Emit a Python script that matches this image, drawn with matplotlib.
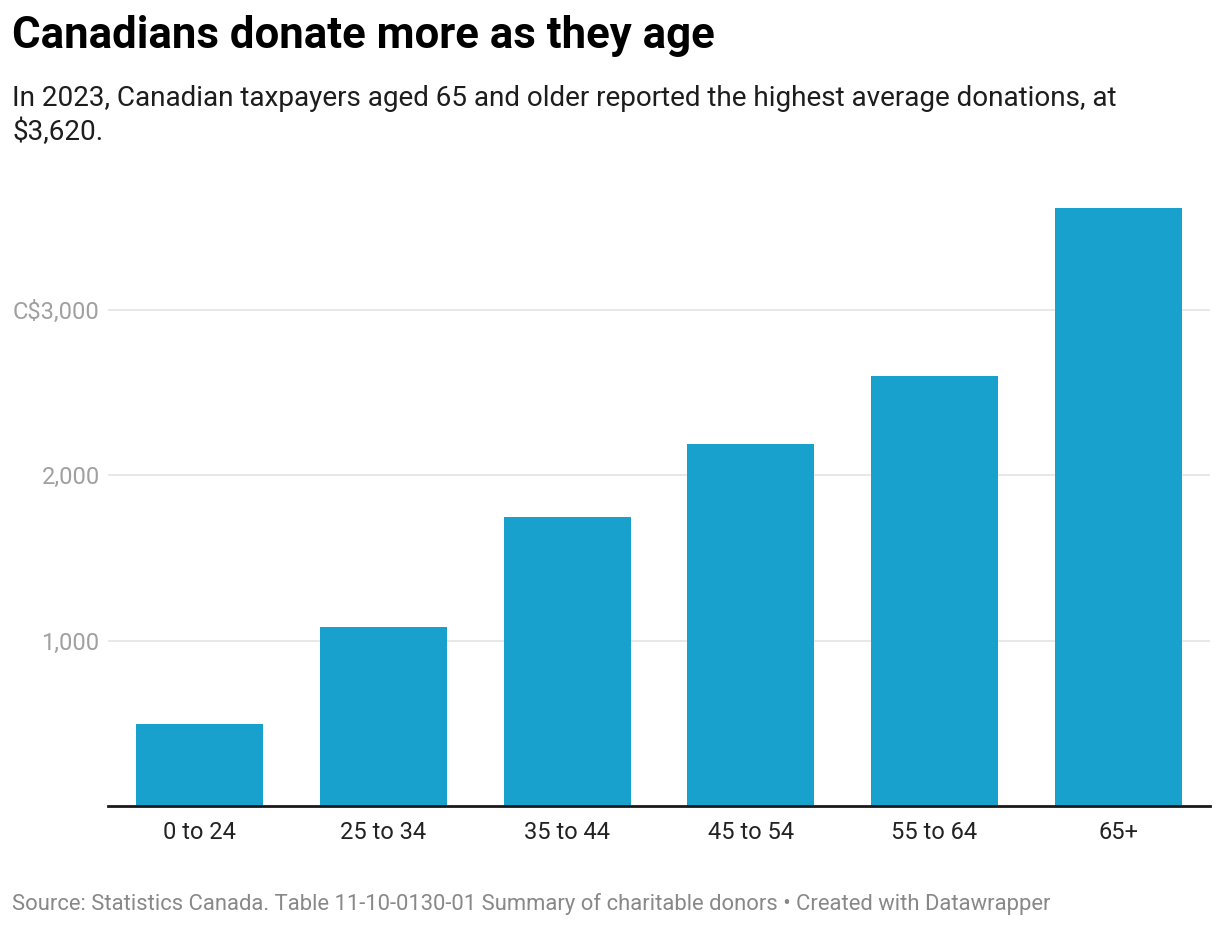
import matplotlib
matplotlib.use("Agg")
import matplotlib.pyplot as plt
from matplotlib.ticker import FixedLocator

categories = ["0 to 24", "25 to 34", "35 to 44", "45 to 54", "55 to 64", "65+"]
values = [495, 1080, 1750, 2190, 2600, 3620]
yticks = [1000, 2000, 3000]
ytick_labels = ["1,000", "2,000", "C$3,000"]

title = "Canadians donate more as they age"
subtitle_lines = ["In 2023, Canadian taxpayers aged 65 and older reported the highest average donations, at",
                  "$3,620."]
source = "Source: Statistics Canada. Table 11-10-0130-01 Summary of charitable donors • Created with Datawrapper"

plt.rcParams['font.family'] = ['Roboto', 'DejaVu Sans']

W, H = 1220, 926
fig = plt.figure(figsize=(W / 100, H / 100), dpi=100)
left, right = 108 / W, 1210 / W
bottom = (H - 806) / H
top_px = 806 - 3700 * 0.1653
ax = fig.add_axes([left, bottom, right - left, (806 - top_px) / H])

x = list(range(len(categories)))
ax.bar(x, values, width=0.69, color="#18a1cd", zorder=3)
ax.set_xlim(-0.5, len(categories) - 0.5)
ax.set_ylim(0, 3700)

ax.yaxis.set_major_locator(FixedLocator(yticks))
ax.set_yticklabels(ytick_labels)
ax.grid(axis='y', color="#e4e4e4", linewidth=1.2, zorder=0)
ax.set_xticks(x)
ax.set_xticklabels(categories)
for s in ["top", "right", "left"]:
    ax.spines[s].set_visible(False)
ax.spines["bottom"].set_color("#1a1a1a")
ax.spines["bottom"].set_linewidth(2)
ax.spines["bottom"].set_zorder(4)
ax.tick_params(axis='y', length=0, pad=6, labelsize=17, labelcolor="#a0a0a0")
ax.tick_params(axis='x', length=0, pad=11, labelsize=17, labelcolor="#222222")

fig.text(12 / W, 1 - 48 / H, title, fontsize=31.5, fontweight='bold', color="#000000",
         ha='left', va='baseline')
for i, line in enumerate(subtitle_lines):
    fig.text(12 / W, 1 - (106 + 34 * i) / H, line, fontsize=20.1, color="#1d1d1d",
             ha='left', va='baseline')
fig.text(12 / W, 1 - 910 / H, source, fontsize=15.8, color="#888888",
         ha='left', va='baseline')

fig.savefig("out.png", dpi=100)
